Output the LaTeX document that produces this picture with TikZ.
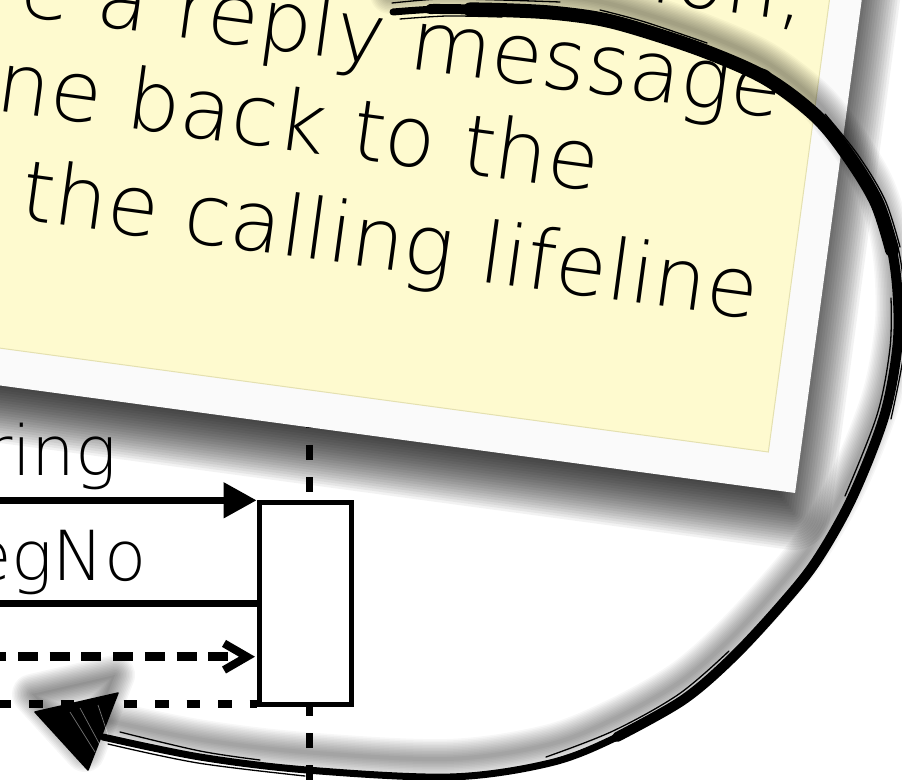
\documentclass[tikz,border=0pt]{standalone}
\usepackage{fontspec}
\IfFontExistsTF{DejaVu Sans ExtraLight}{\newfontfamily\lightfont{DejaVu Sans ExtraLight}}{\newfontfamily\lightfont{DejaVu Sans}}
\usetikzlibrary{arrows.meta,calc}
\definecolor{noteyellow}{HTML}{FEFACF}
\definecolor{noteborder}{HTML}{FAFAFA}
\definecolor{noteedge}{HTML}{E4E0B0}
\def\fullcurve{plot[smooth, tension=0.55] coordinates {(393,12) (440,9) (500,10) (550,12.5) (600,19) (645,31) (707,52) (767,79) (817,117) (850,158) (877,203) (892,250) (898,300) (897,350) (884,417) (852,498) (817,560) (783,603) (733,657) (683,700) (617,737) (550,763) (450,777) (307,770) (200,757) (103,737)}}
\def\midcurve{plot[smooth, tension=0.55] coordinates {(430,9.2) (440,9) (500,10) (550,12.5) (600,19) (645,31) (707,52) (767,79) (817,117) (850,158) (877,203) (892,250) (898,300) (897,350) (884,417) (852,498) (817,560) (783,603) (733,657) (683,700) (617,737)}}
\def\topcurve{plot[smooth, tension=0.55] coordinates {(470,9.4) (500,10) (550,12.5) (600,19) (645,31) (707,52) (767,79) (817,117) (850,158) (877,203) (892,250)}}
\def\headshape{(35,712) -- (118,693) -- (88,770) -- cycle}
\begin{document}
\begin{tikzpicture}[x=1pt,y=-1pt,
  notetext/.style={font=\lightfont\fontsize{84}{100}\selectfont, inner sep=0pt, text=black},
  dtext/.style={font=\lightfont\fontsize{69}{80}\selectfont, inner sep=0pt, text=black},
  msg/.style={line width=7.3pt, line cap=butt},
  dmsga/.style={line width=8.5pt, line cap=butt, dash pattern=on 20pt off 11.7pt, dash phase=13.7pt},
  dmsgb/.style={line width=8pt, line cap=butt, dash pattern=on 13.5pt off 18pt, dash phase=2.5pt},
  lifeline/.style={line width=7pt, dash pattern=on 15pt off 17pt},
  actbox/.style={draw=black, line width=5pt, fill=white, minimum width=92.6pt, minimum height=201.7pt, inner sep=0pt},
  sketch/.style={line cap=round, line join=round},
  strand/.style={black, line width=1.3pt, line cap=round}
]
\useasboundingbox (0,0) rectangle (902,779);
\clip (0,0) rectangle (902,779);
\fill[white] (0,0) rectangle (902,779);

% ---- note shadow ----
\begin{scope}[rotate=-7.7]
  \foreach \r in {-30,-27.5,...,35}{
    \pgfmathsetmacro\rc{max(\r,0)+2}
    \fill[black, opacity=0.05, rounded corners=\rc pt] ({-400-(\r)},{-500-(\r)}) rectangle ({857+\r},{404+\r});
  }
\end{scope}

% ---- sequence diagram part ----
\draw[lifeline] (309.5,413) -- (309.5,800);
\node[actbox] (act) at (305.5,603.3) {};
\coordinate (m1) at (-20,500.3);
\coordinate (m2) at (-20,603.7);
\coordinate (m3) at (0,656.7);
\coordinate (m4) at (0,704);
\draw[msg, -{Triangle[length=33pt,width=34pt]}] (m1) -- (m1 -| act.west);
\draw[msg] (m2) -- (m2 -| act.west);
\coordinate (m3tip) at (247,656.7);
\draw[dmsga] (m3) -- (m3tip);
\draw[line width=8pt, line cap=butt, line join=miter] ($(m3tip)+(-23,-13.3)$) -- (m3tip) -- ($(m3tip)+(-23,13.3)$);
\draw[dmsgb] (m4) -- (m4 -| act.west);
\node[dtext, anchor=base east] (t1) at (117,475) {ring};
\node[dtext, anchor=base east] (t2) at (147,580) {egNo};

% ---- note ----
\begin{scope}[rotate=-7.7, transform shape]
  \fill[noteborder] (-400,-500) rectangle (854,382);
  \filldraw[fill=noteyellow, draw=noteedge, line width=1pt] (-400,-500) rectangle (822,345);
  \node[notetext, anchor=base east] (l1) at (799,-86) {ion,};
  \node[notetext, anchor=base east] (l2) at (788,13) {e a reply message};
  \node[notetext, anchor=base west] (l3) at (9,110) {ne back to the};
  \node[notetext, anchor=base west] (l4) at (48,215) {the calling lifeline};
\end{scope}

% ---- sketch arrow shadow ----
\begin{scope}[shift={(-3,-18)}]
  \foreach \w in {4,7,...,40}{
    \draw[black, opacity=0.032, line width=\w pt, sketch] \fullcurve;
    \draw[black, opacity=0.035, line width=\w pt, sketch] \headshape;
  }
  \fill[black, opacity=0.05] \headshape;
\end{scope}

% ---- sketch arrow ----
\draw[black, line width=7pt, sketch] \fullcurve;
\draw[black, line width=10pt, sketch] \midcurve;
\draw[black, line width=14pt, sketch] \topcurve;
% loose strands for a brush look
\begin{scope}[shift={(0,-7)}]
  \draw[strand] plot[smooth] coordinates {(392,10) (440,6) (500,7) (560,9)};
\end{scope}
\begin{scope}[shift={(2,7)}]
  \draw[strand] plot[smooth] coordinates {(398,12) (445,9) (500,10)};
\end{scope}
\begin{scope}[shift={(0,-9)}]
  \draw[strand] plot[smooth, tension=0.55] coordinates {(600,19) (645,31) (707,52)};
\end{scope}
\begin{scope}[shift={(8,-3)}]
  \draw[strand] plot[smooth, tension=0.55] coordinates {(817,117) (850,158) (877,203) (892,250)};
\end{scope}
\begin{scope}[shift={(7,2)}]
  \draw[strand] plot[smooth, tension=0.55] coordinates {(877,203) (892,250) (898,300) (897,350) (884,417)};
\end{scope}
\begin{scope}[shift={(-7,-2)}]
  \draw[strand] plot[smooth, tension=0.55] coordinates {(898,300) (897,350) (884,417) (852,498)};
\end{scope}
\begin{scope}[shift={(-4,-6)}]
  \draw[strand] plot[smooth, tension=0.55] coordinates {(733,657) (683,700) (617,737) (550,763)};
\end{scope}
\begin{scope}[shift={(-2,6)}]
  \draw[strand] plot[smooth, tension=0.55] coordinates {(307,770) (200,757) (110,738)};
\end{scope}
\begin{scope}[shift={(0,-5)}]
  \draw[strand] plot[smooth, tension=0.55] coordinates {(260,765) (200,756) (120,737)};
\end{scope}
\filldraw[black, line width=1.5pt, line join=round] \headshape;
\draw[white, opacity=0.45, line width=0.7pt] (70,712) -- (95,752) (80,708) -- (100,745) (98,705) -- (108,735);
\end{tikzpicture}
\end{document}
